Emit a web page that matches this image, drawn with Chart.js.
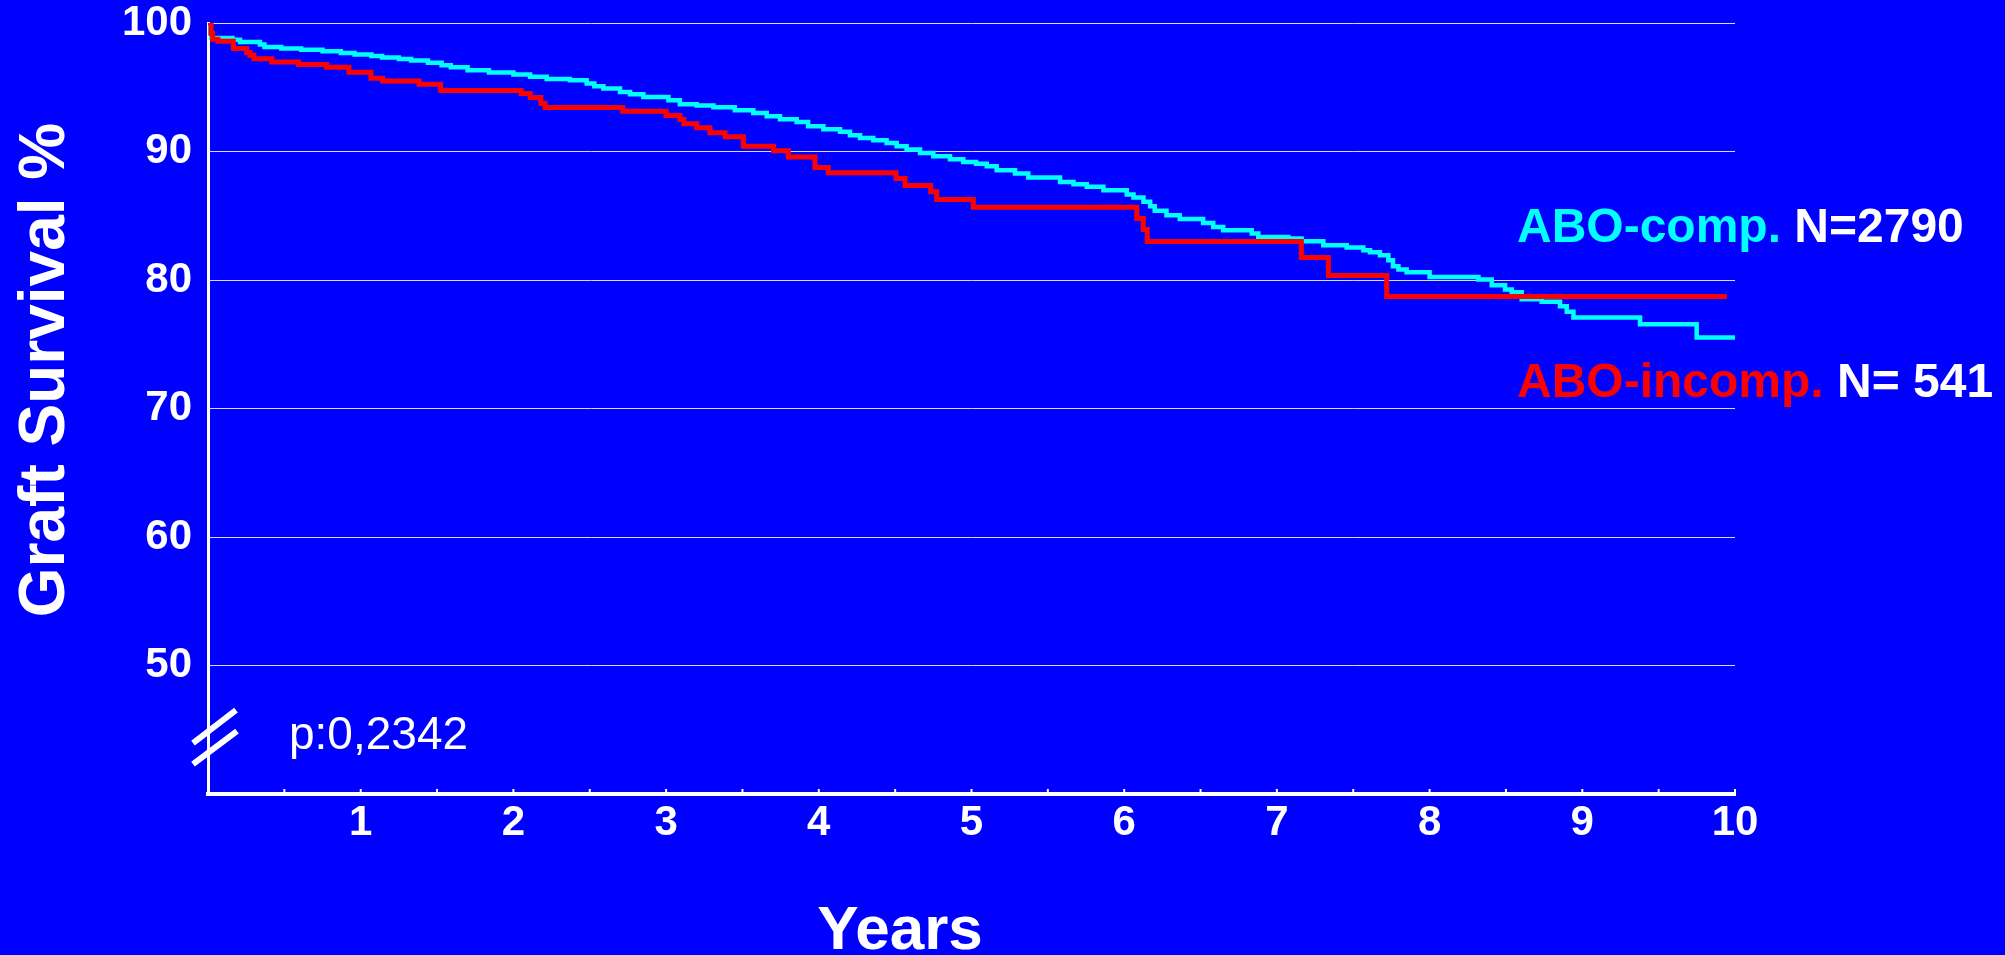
<!DOCTYPE html>
<html lang="en">
<head>
    <meta charset="UTF-8">
    <title>Graft Survival - ABO</title>
    <script src="https://cdn.jsdelivr.net/npm/chart.js"></script>
    <style>
        html, body {
            margin: 0;
            padding: 0;
            background: #0000ff;
            overflow: hidden;
        }
        canvas {
            display: block;
        }
    </style>
</head>
<body>
<canvas id="survivalChart" width="2005" height="955"></canvas>
<script>
    // ABO compatible (cyan): step times (years) and survival (%) after each step
    const compYears = [0, 0.01, 0.02, 0.16, 0.21, 0.34, 0.37, 0.48, 0.61, 0.75, 0.87, 0.96, 1.07, 1.14, 1.25, 1.33,
        1.44, 1.53, 1.59, 1.70, 1.84, 2.00, 2.109, 2.218, 2.37, 2.48, 2.53, 2.589, 2.698, 2.764, 2.851, 3.015,
        3.09, 3.20, 3.31, 3.45, 3.571, 3.659, 3.746, 3.855, 3.93, 4.03, 4.139, 4.204, 4.27, 4.357, 4.444, 4.51,
        4.575, 4.663, 4.75, 4.859, 4.946, 5.03, 5.10, 5.165, 5.285, 5.372, 5.58, 5.668, 5.755, 5.864, 6.017,
        6.061, 6.126, 6.17, 6.20, 6.277, 6.364, 6.517, 6.583, 6.648, 6.835, 6.878, 7.075, 7.162, 7.304, 7.457,
        7.566, 7.61, 7.675, 7.73, 7.76, 7.796, 7.85, 8.00, 8.32, 8.407, 8.494, 8.538, 8.603, 8.734, 8.854,
        8.898, 8.942, 9.378, 9.749, 10.0];
    const compSurv = [100, 99.2, 98.84, 98.7, 98.53, 98.32, 98.14, 98.01, 97.91, 97.81, 97.67, 97.55, 97.44, 97.31, 97.2, 97.08,
        96.9, 96.72, 96.56, 96.33, 96.15, 95.99, 95.81, 95.65, 95.55, 95.29, 95.08, 94.9, 94.64, 94.46, 94.25, 93.99,
        93.68, 93.58, 93.45, 93.21, 93.0, 92.75, 92.51, 92.3, 91.97, 91.74, 91.53, 91.27, 91.06, 90.88, 90.67, 90.41,
        90.16, 89.89, 89.63, 89.4, 89.19, 89.04, 88.86, 88.54, 88.29, 87.98, 87.63, 87.46, 87.25, 86.99, 86.65,
        86.42, 86.08, 85.74, 85.38, 85.04, 84.75, 84.44, 84.13, 83.88, 83.62, 83.35, 83.23, 83.02, 82.71, 82.53,
        82.32, 82.16, 81.93, 81.54, 81.07, 80.82, 80.61, 80.24, 80.04, 79.6, 79.26, 79.05, 78.51, 78.3, 77.96,
        77.52, 77.08, 76.56, 75.53, 75.53];

    // ABO incompatible (red)
    const incompYears = [0, 0.02, 0.03, 0.065, 0.166, 0.253, 0.275, 0.301, 0.417, 0.592, 0.777, 0.923, 1.067, 1.144,
        1.382, 1.524, 2.05, 2.11, 2.18, 2.207, 2.716, 3.0, 3.09, 3.117, 3.2, 3.287, 3.386, 3.506, 3.703, 3.80,
        3.975, 4.062, 4.506, 4.565, 4.733, 4.772, 5.012, 6.082, 6.125, 6.151, 7.16, 7.337, 7.719, 9.946];
    const incompSurv = [100, 99.2, 98.74, 98.58, 98.01, 97.7, 97.49, 97.21, 96.97, 96.77, 96.56, 96.17, 95.7, 95.49,
        95.24, 94.75, 94.51, 94.2, 93.73, 93.42, 93.14, 92.8, 92.49, 92.15, 91.84, 91.45, 91.14, 90.41, 90.05, 89.58,
        88.75, 88.34, 87.9, 87.35, 86.86, 86.26, 85.66, 84.79, 83.93, 83.0, 81.75, 80.35, 78.72, 78.72];

    const yTickValues = [50, 60, 70, 80, 90, 100];
    const xTickLabels = [1, 2, 3, 4, 5, 6, 7, 8, 9, 10];

    const fuente = 'Liberation Sans, Arial, sans-serif';

    function puntos(xs, ys) {
        return xs.map((x, i) => ({ x: x, y: ys[i] }));
    }

    // texts, axis tick marks and the axis break
    const textos = {
        id: 'textos',
        afterDraw(chart) {
            const ctx = chart.ctx;
            const xs = chart.scales.x;
            const ys = chart.scales.y;
            ctx.save();

            // small tick marks on the x axis
            ctx.strokeStyle = '#ffffff';
            ctx.lineWidth = 2;
            xs.ticks.forEach(t => {
                const px = xs.getPixelForValue(t.value);
                ctx.beginPath();
                ctx.moveTo(px, ys.bottom);
                ctx.lineTo(px, ys.bottom - 5);
                ctx.stroke();
            });

            // axis break "//"
            const yb = ys.getPixelForValue(44.2);
            const xb = xs.left;
            ctx.lineWidth = 6;
            ctx.beginPath();
            ctx.moveTo(xb - 15, yb + 3);
            ctx.lineTo(xb + 28, yb - 30);
            ctx.moveTo(xb - 15, yb + 24);
            ctx.lineTo(xb + 29, yb - 9);
            ctx.stroke();

            ctx.fillStyle = '#ffffff';
            ctx.textBaseline = 'alphabetic';

            // p value
            ctx.font = '46px ' + fuente;
            ctx.textAlign = 'left';
            ctx.fillText('p:0,2342', 289, 749);

            // axis titles
            ctx.font = 'bold 62px ' + fuente;
            ctx.textAlign = 'center';
            ctx.fillText('Years', 900, 949);
            ctx.save();
            ctx.font = 'bold 64px ' + fuente;
            ctx.translate(64, 370);
            ctx.rotate(-Math.PI / 2);
            ctx.fillText('Graft Survival %', 0, 0);
            ctx.restore();

            // series labels
            ctx.font = 'bold 48px ' + fuente;
            ctx.textAlign = 'left';
            let w;
            ctx.fillStyle = '#00ffff';
            ctx.fillText('ABO-comp.', 1517, 242);
            w = ctx.measureText('ABO-comp.').width;
            ctx.fillStyle = '#ffffff';
            ctx.fillText(' N=2790', 1517 + w, 242);

            ctx.fillStyle = '#ff0000';
            ctx.fillText('ABO-incomp.', 1517, 397);
            w = ctx.measureText('ABO-incomp.').width;
            ctx.fillStyle = '#ffffff';
            ctx.fillText(' N= 541', 1517 + w, 397);

            ctx.restore();
        }
    };

    const ctx = document.getElementById('survivalChart').getContext('2d');
    const survivalChart = new Chart(ctx, {
        type: 'line',
        data: {
            datasets: [{
                label: 'ABO-incomp. N= 541',
                data: puntos(incompYears, incompSurv),
                borderColor: '#ff0000',
                borderWidth: 5,
                stepped: true,
                pointRadius: 0,
                fill: false
            }, {
                label: 'ABO-comp. N=2790',
                data: puntos(compYears, compSurv),
                borderColor: '#00ffff',
                borderWidth: 4.5,
                stepped: true,
                pointRadius: 0,
                fill: false
            }]
        },
        options: {
            responsive: false,
            animation: false,
            devicePixelRatio: 1,
            layout: {
                padding: { top: 23, right: 270, left: 0, bottom: 0 }
            },
            plugins: {
                legend: { display: false },
                tooltip: { enabled: false }
            },
            scales: {
                x: {
                    type: 'linear',
                    min: 0,
                    max: 10,
                    ticks: {
                        stepSize: 0.5,
                        autoSkip: false,
                        maxRotation: 0,
                        color: '#ffffff',
                        padding: 4,
                        font: { family: fuente, size: 42, weight: 'bold' },
                        callback: v => xTickLabels.includes(v) ? String(v) : ''
                    },
                    grid: { drawOnChartArea: false, drawTicks: false },
                    border: { color: '#ffffff', width: 4 },
                    afterFit: s => {
                        s.height = 161;
                        s.paddingLeft = 0;
                        s.paddingRight = 0;
                    }
                },
                y: {
                    min: 40,
                    max: 100,
                    ticks: {
                        stepSize: 10,
                        color: '#ffffff',
                        padding: 16,
                        font: { family: fuente, size: 42, weight: 'bold' },
                        callback: v => yTickValues.includes(v) ? String(v) : ''
                    },
                    grid: {
                        color: c => yTickValues.includes(c.tick.value) ? 'rgba(255,255,255,0.85)' : 'rgba(0,0,0,0)',
                        lineWidth: 1,
                        drawTicks: false
                    },
                    border: { color: '#ffffff', width: 3 },
                    afterFit: s => {
                        s.width = 208;
                        s.paddingTop = 0;
                        s.paddingBottom = 0;
                    }
                }
            }
        },
        plugins: [textos]
    });
</script>
</body>
</html>
